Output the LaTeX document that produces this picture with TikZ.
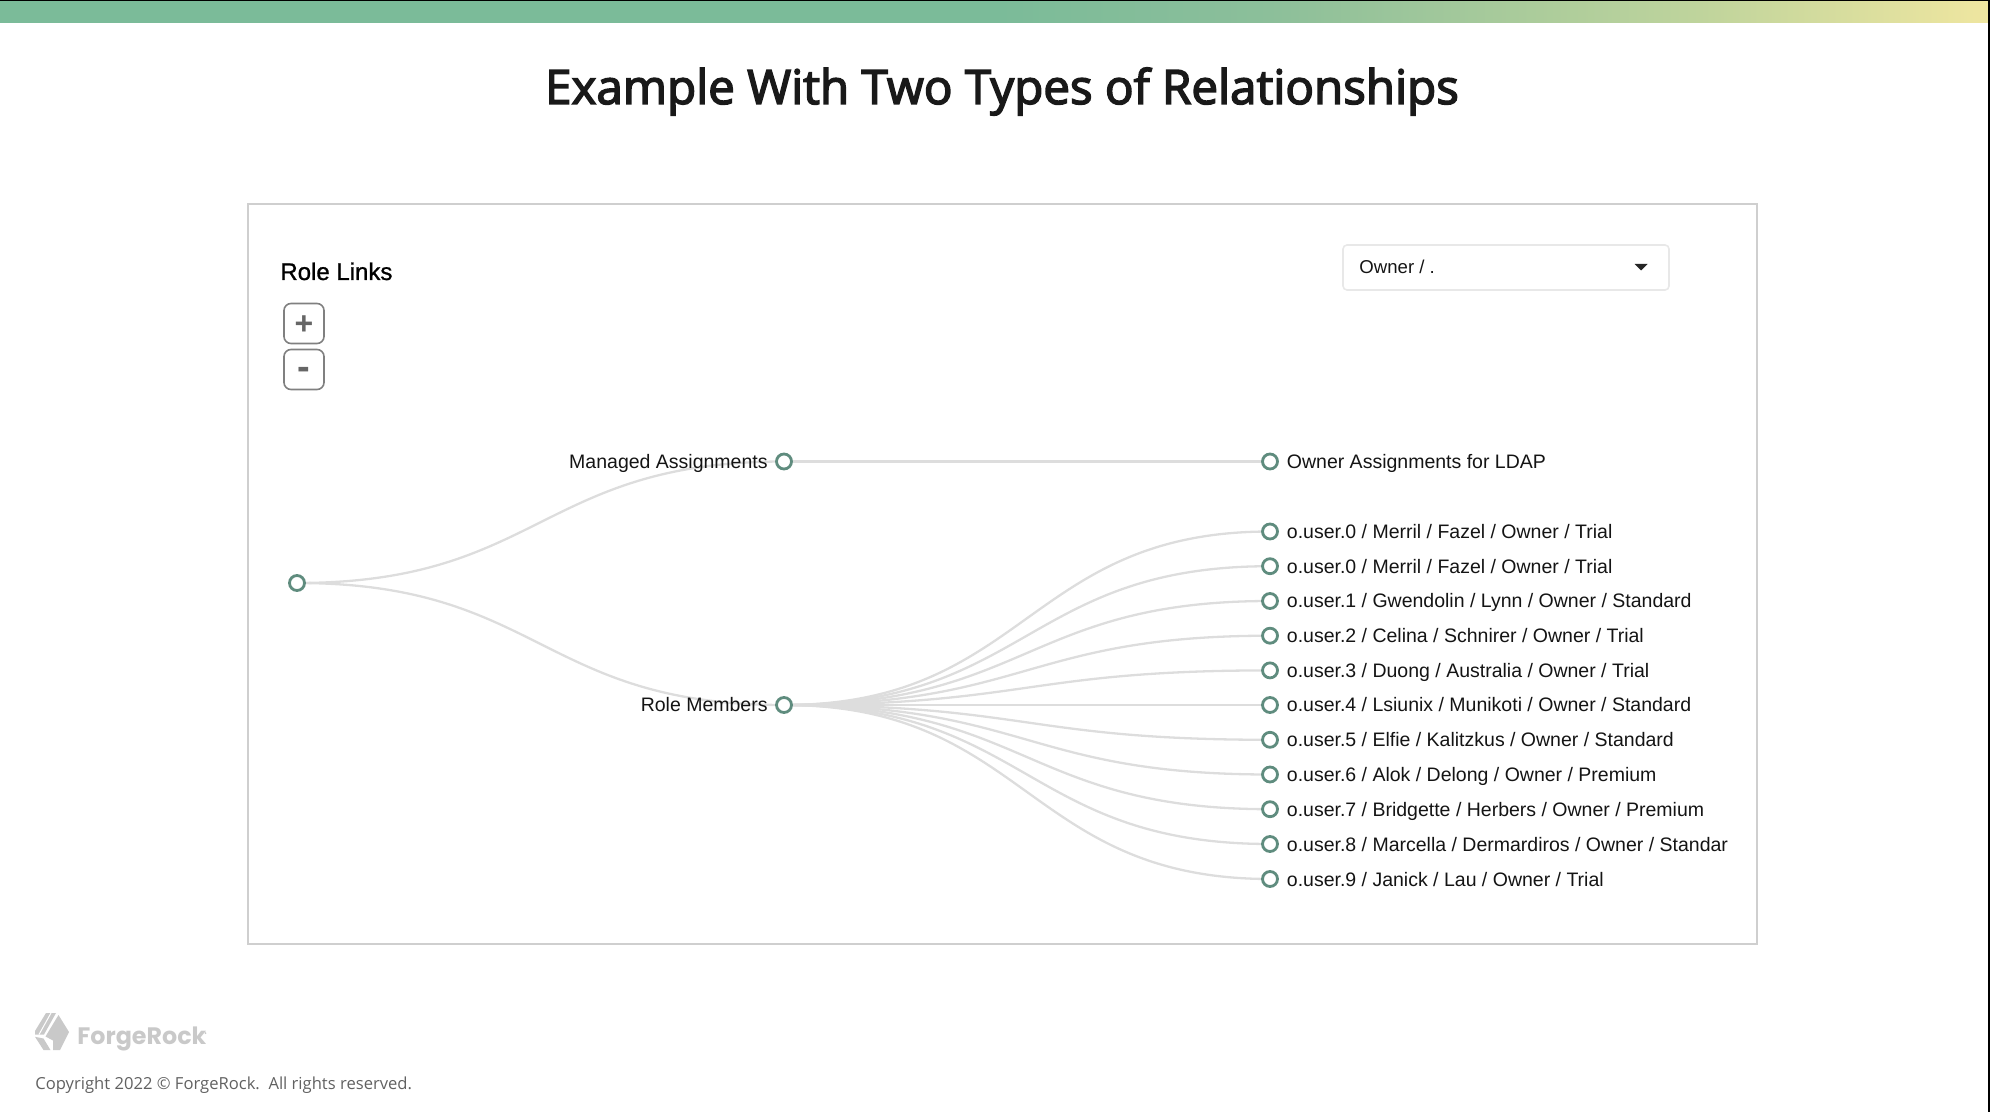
\documentclass[tikz,border=0pt]{standalone}
\usepackage{fontspec}
\usetikzlibrary{backgrounds}
\setmainfont{Liberation Sans}
\newfontfamily\titlefont{Open Sans}
\newfontfamily\footfont{Open Sans}
\newfontfamily\logofont{Poppins}
\newcommand{\strokedtext}[2]{\special{pdf:code 2 Tr #1 w}#2\special{pdf:code 0 Tr 0 w}}
\definecolor{barleft}{HTML}{7BBB99}
\definecolor{barmid}{HTML}{8CBF9A}
\definecolor{barlate}{HTML}{BFD49C}
\definecolor{barright}{HTML}{EFE6A0}
\definecolor{dotgreen}{HTML}{5F8C7E}
\definecolor{linkgray}{HTML}{DDDDDD}
\definecolor{logogray}{HTML}{C9C9C9}
\tikzset{
    dot/.style={circle,draw=dotgreen,fill=white,line width=1.4pt,minimum size=7.5pt,inner sep=0pt},
    link/.style={draw=linkgray,line width=1.15pt},
    treetext/.style={anchor=base west,inner sep=0pt,font=\fontsize{9.75pt}{11pt}\selectfont,text=black!92},
    treeleft/.style={anchor=base east,inner sep=0pt,font=\fontsize{9.75pt}{11pt}\selectfont,text=black!92},
    zoombtn/.style={draw=black!50,line width=0.8pt,rounded corners=3.5pt,minimum width=20pt,minimum height=20pt,inner sep=0pt,text=black!60}
}
\begin{document}
\begin{tikzpicture}[x=0.5pt,y=-0.5pt]
    \useasboundingbox (0,0) rectangle (1990,1112);
    % top bar
    \fill[barleft] (0,0) rectangle (1000,23);
    \shade[left color=barleft,right color=barmid] (999,0) rectangle (1270,23);
    \shade[left color=barmid,right color=barlate] (1269,0) rectangle (1700,23);
    \shade[left color=barlate,right color=barright] (1699,0) rectangle (1988,23);
    \fill[black] (0,0) rectangle (1990,1);
    \fill[black] (1988,0) rectangle (1990,1112);
    \node[anchor=base,inner sep=0pt,font=\titlefont\fontsize{23.76pt}{28pt}\selectfont,text=black!90] (title) at (1002,104) {\strokedtext{0.75}{Example With Two Types of Relationships}};
    % panel
    \draw[black!19,line width=1pt] (247.5,204.5) rectangle (1756.5,943.5);
    \node[anchor=base west,inner sep=0pt,font=\fontsize{12pt}{14pt}\selectfont,text=black] (rolelinks) at (280,280) {\strokedtext{0.12}{Role Links}};
    \node[zoombtn,font=\bfseries\fontsize{16pt}{16pt}\selectfont,text height=10.6pt,text depth=0pt] (plus) at (304,323.5) {+};
    \node[zoombtn,font=\bfseries\fontsize{19pt}{19pt}\selectfont,text height=9.8pt,text depth=0pt] (minus) at (304,369.5) {-};
    \node[draw=black!9,line width=0.8pt,rounded corners=2pt,minimum width=163pt,minimum height=22.5pt,inner sep=0pt] (select) at (1506,267.5) {};
    \node[anchor=base west,inner sep=0pt,font=\fontsize{9.3pt}{11pt}\selectfont,text=black!92] (selecttext) at (1359,274) {Owner / .};
    \fill[black!85] (1634.5,264) -- (1647.5,264) -- (1641,270.5) -- cycle;
    % tree
    \node[dot] (root) at (297,583) {};
    \node[dot] (managed) at (784,461.5) {};
    \node[dot] (members) at (784,705) {};
    \node[dot] (owner) at (1270,461.5) {};
    \node[dot] (u0) at (1270,531.5) {};
    \node[dot] (u1) at (1270,566.2) {};
    \node[dot] (u2) at (1270,601) {};
    \node[dot] (u3) at (1270,635.7) {};
    \node[dot] (u4) at (1270,670.4) {};
    \node[dot] (u5) at (1270,705) {};
    \node[dot] (u6) at (1270,739.8) {};
    \node[dot] (u7) at (1270,774.5) {};
    \node[dot] (u8) at (1270,809.2) {};
    \node[dot] (u9) at (1270,844) {};
    \node[dot] (u10) at (1270,879) {};
    \node[treeleft] (managedtext) at (768,468) {Managed Assignments};
    \node[treeleft] (memberstext) at (768,711.5) {Role Members};
    \node[treetext] (ownertext) at (1286.5,468) {Owner Assignments for LDAP};
    \node[treetext] (t0) at (1286.5,538) {o.user.0 / Merril / Fazel / Owner / Trial};
    \node[treetext] (t1) at (1286.5,573.2) {o.user.0 / Merril / Fazel / Owner / Trial};
    \node[treetext] (t2) at (1286.5,607.5) {o.user.1 / Gwendolin / Lynn / Owner / Standard};
    \node[treetext] (t3) at (1286.5,642.2) {o.user.2 / Celina / Schnirer / Owner / Trial};
    \node[treetext] (t4) at (1286.5,677.3) {o.user.3 / Duong / Australia / Owner / Trial};
    \node[treetext] (t5) at (1286.5,711.5) {o.user.4 / Lsiunix / Munikoti / Owner / Standard};
    \node[treetext] (t6) at (1286.5,746.8) {o.user.5 / Elfie / Kalitzkus / Owner / Standard};
    \node[treetext] (t7) at (1286.5,781) {o.user.6 / Alok / Delong / Owner / Premium};
    \node[treetext] (t8) at (1286.5,816.2) {o.user.7 / Bridgette / Herbers / Owner / Premium};
    \node[treetext] (t9) at (1286.5,851) {o.user.8 / Marcella / Dermardiros / Owner / Standar};
    \node[treetext] (t10) at (1286.5,886) {o.user.9 / Janick / Lau / Owner / Trial};
    \begin{pgfonlayer}{background}
        \draw[link] (root.center) .. controls +(243.5,0) and +(-243.5,0) .. (managed.center);
        \draw[link] (root.center) .. controls +(243.5,0) and +(-243.5,0) .. (members.center);
        \draw[link] (managed.center) -- (owner.center);
        \foreach \leaf in {u0,u1,u2,u3,u4,u5,u6,u7,u8,u9,u10}
            \draw[link] (members.center) .. controls +(243,0) and +(-243,0) .. (\leaf.center);
    \end{pgfonlayer}
    % footer
    \fill[logogray] (46,1013) -- (56,1013) -- (44,1034.5) -- (35,1034.5) -- (35,1031) -- cycle;
    \draw[white,line width=0.5pt] (51,1013) -- (39,1034.5);
    \fill[logogray] (58.5,1015) -- (69,1032) -- (60,1050) -- (53,1050) -- (53,1040.5) -- (45.5,1036.5) -- cycle;
    \fill[logogray] (35,1036.8) -- (43.5,1038.5) -- (50.5,1050) -- (43.5,1050) -- cycle;
    \node[anchor=base west,inner sep=0pt,font=\logofont\bfseries\fontsize{11.9pt}{14pt}\selectfont,text=logogray] (logo) at (77,1044) {ForgeRock};
    \fill[logogray] (205.5,1033) circle (1);
    \node[anchor=base west,inner sep=0pt,font=\footfont\fontsize{8.3pt}{10pt}\selectfont,text=black!62] (copyright) at (35,1089) {Copyright 2022 © ForgeRock.\ \ All rights reserved.};
\end{tikzpicture}
\end{document}
